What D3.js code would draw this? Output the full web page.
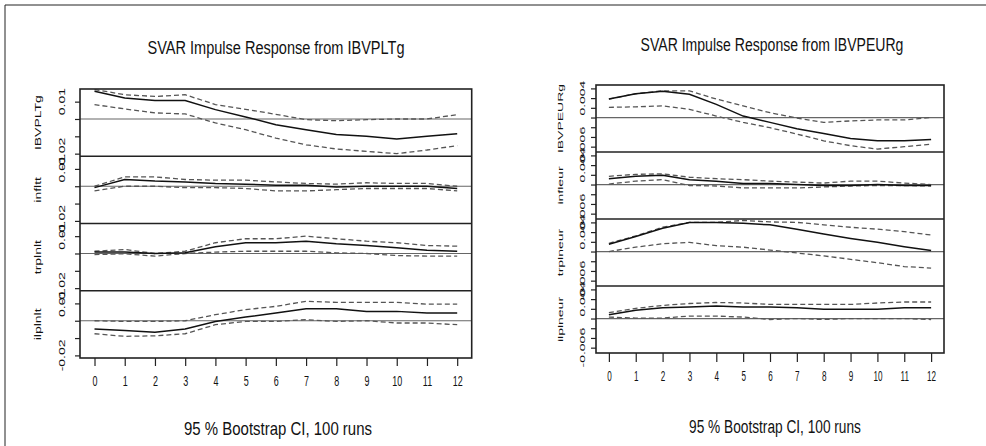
<!DOCTYPE html>
<html>
<head>
<meta charset="utf-8">
<script src="https://cdn.jsdelivr.net/npm/d3@7"></script>
<style>
  body { margin: 0; background: #fff; }
  svg text { font-family: "Liberation Sans", Arial, sans-serif; fill: #111; }
</style>
</head>
<body>
<div id="chart"></div>
<script>
const horizons = [0, 1, 2, 3, 4, 5, 6, 7, 8, 9, 10, 11, 12];

// shock from IBVPLTg
const pltVars = ['IBVPLTg', 'infltt', 'trplnlt', 'ilplnlt'];
const pltIrf = [
    [0.016, 0.0121, 0.0106, 0.0106, 0.0054, 0.0012, -0.0033, -0.0062, -0.009, -0.010, -0.0116, -0.010, -0.0085],
    [-0.0008, 0.0039, 0.003, 0.0025, 0.0016, 0.0012, 0.0006, 0.0006, -0.0004, 0, 0, 0, -0.0013],
    [0.0008, 0.0008, 0, 0.0004, 0.0039, 0.0062, 0.0062, 0.0071, 0.0056, 0.0046, 0.0033, 0.0019, 0.0013],
    [-0.0048, -0.0056, -0.0067, -0.0048, -0.0004, 0.0021, 0.0044, 0.0069, 0.0069, 0.0054, 0.0054, 0.0044, 0.0044]
];
const pltLower = [
    [0.0083, 0.0058, 0.0035, 0.0029, -0.0023, -0.0062, -0.011, -0.0149, -0.0173, -0.0187, -0.020, -0.0179, -0.0154],
    [-0.0027, 0, 0, -0.0008, -0.0008, -0.0013, -0.0027, -0.0027, -0.002, -0.0013, -0.0013, -0.0013, -0.0027],
    [-0.0006, -0.0002, -0.0015, 0, 0.0008, 0.0013, 0.0013, 0.0013, 0.0004, 0, -0.0012, -0.0015, -0.0015],
    [-0.0075, -0.009, -0.0087, -0.0075, -0.0023, -0.0004, -0.0004, 0.0006, -0.0004, 0, -0.0013, -0.0013, -0.0023]
];
const pltUpper = [
    [0.017, 0.014, 0.013, 0.014, 0.0083, 0.0056, 0.0027, -0.0004, -0.001, -0.0004, 0, 0, 0.0025],
    [0, 0.0054, 0.0054, 0.0039, 0.0035, 0.0035, 0.0025, 0.0016, 0.0012, 0.002, 0.0016, 0.0016, 0],
    [0.0013, 0.0023, 0, 0.0013, 0.0062, 0.0085, 0.0085, 0.010, 0.0085, 0.0071, 0.0062, 0.0046, 0.0042],
    [0, -0.0004, -0.0004, 0, 0.0035, 0.0064, 0.0083, 0.0112, 0.0106, 0.0106, 0.0106, 0.0096, 0.0096]
];
const pltTicks = [-0.02, -0.01, 0, 0.01];
const pltTickLabels = [-0.02, 0.01];

// shock from IBVPEURg
const eurVars = ['IBVPEURg', 'infleur', 'trplneur', 'ilplneur'];
const eurIrf = [
    [0.0038, 0.0049, 0.0054, 0.0048, 0.0027, 0.0003, -0.001, -0.0023, -0.0033, -0.0043, -0.0048, -0.0048, -0.0045],
    [0.0012, 0.0017, 0.0019, 0.001, 0.0007, 0.0002, 0.0002, 0, -0.0002, -0.0002, 0, -0.0002, -0.0002],
    [0.0015, 0.0031, 0.0048, 0.006, 0.006, 0.0058, 0.0055, 0.0046, 0.0036, 0.0027, 0.0019, 0.001, 0.0002],
    [0.0008, 0.0017, 0.0022, 0.0024, 0.0026, 0.0024, 0.0024, 0.0022, 0.0019, 0.0019, 0.0019, 0.0022, 0.0022]
];
const eurLower = [
    [0.0021, 0.0022, 0.0024, 0.0017, 0.0003, -0.001, -0.0021, -0.0034, -0.0048, -0.0058, -0.0065, -0.006, -0.0055],
    [0.0001, 0.0007, 0.001, -0.0002, -0.0003, -0.0007, -0.0007, -0.0007, -0.0005, -0.0003, -0.0002, -0.0002, -0.0003],
    [0, 0.0009, 0.0016, 0.0019, 0.0012, 0.0009, 0.0003, -0.0003, -0.0009, -0.0016, -0.0023, -0.0031, -0.0034],
    [0.0003, 0.0001, 0.0001, 0.0005, 0.0005, 0.0003, -0.0002, 0, -0.0002, 0, 0, 0, -0.0002]
];
const eurUpper = [
    [0.0038, 0.0049, 0.0055, 0.0055, 0.0038, 0.0024, 0.001, -0.0001, -0.001, -0.0007, -0.0005, -0.0005, 0],
    [0.0017, 0.0021, 0.0022, 0.0015, 0.0012, 0.001, 0.0007, 0.0005, 0.0003, 0.0007, 0.0007, 0.0003, 0],
    [0.0017, 0.0032, 0.005, 0.006, 0.006, 0.0064, 0.0061, 0.006, 0.0055, 0.005, 0.0046, 0.0041, 0.0034],
    [0.0012, 0.0021, 0.0027, 0.0031, 0.0033, 0.0032, 0.0029, 0.0029, 0.0029, 0.0029, 0.0032, 0.0034, 0.0034]
];
const eurTicks = [-0.006, -0.004, -0.002, 0, 0.002, 0.004, 0.006];
const eurTickLabels = [-0.006, 0.004];

const titles = ['SVAR Impulse Response from IBVPLTg', 'SVAR Impulse Response from IBVPEURg'];
const footer = '95 % Bootstrap CI,  100 runs';

const width = 986;
const height = 446;

const svg = d3.select('#chart')
    .append('svg')
        .attr('width', width)
        .attr('height', height);

// outer frame of the exported picture
svg.append('path')
    .attr('d', `M5,${height} V5 H${width}`)
    .attr('fill', 'none')
    .attr('stroke', '#222')
    .attr('stroke-width', 1);

// horizontal text squeezed to a target width (the source image was squashed sideways)
function squeezedText(g, label, cx, cy, targetW, fontSize) {
    const t = g.append('text')
        .attr('text-anchor', 'middle')
        .attr('font-size', fontSize)
        .text(label);
    const natural = t.node().getComputedTextLength();
    t.attr('transform', `translate(${cx},${cy}) scale(${targetW / natural},1)`);
    return t;
}

function drawIrf(opt) {
    const g = svg.append('g');
    const x = d3.scaleLinear().domain([-0.48, 12.48]).range([opt.left, opt.right]);
    const panelH = (opt.bottom - opt.top) / opt.vars.length;

    opt.vars.forEach((name, i) => {
        const y = d3.scaleLinear()
            .domain(opt.yDomain)
            .range([opt.top + (i + 1) * panelH, opt.top + i * panelH]);
        const line = d3.line().x((d, j) => x(horizons[j])).y(d => y(d));

        g.append('line')
            .attr('x1', opt.left)
            .attr('x2', opt.right)
            .attr('y1', y(0))
            .attr('y2', y(0))
            .attr('stroke', '#666')
            .attr('stroke-width', 1.2);

        [opt.lower[i], opt.upper[i]].forEach(band => {
            g.append('path')
                .datum(band)
                .attr('d', line)
                .attr('fill', 'none')
                .attr('stroke', '#555')
                .attr('stroke-width', 1.3)
                .attr('stroke-dasharray', '5,3');
        });

        g.append('path')
            .datum(opt.irf[i])
            .attr('d', line)
            .attr('fill', 'none')
            .attr('stroke', '#111')
            .attr('stroke-width', 1.5);

        const axis = g.append('g')
            .attr('transform', `translate(${opt.left},0)`)
            .call(d3.axisLeft(y).tickValues(opt.ticks).tickSize(5).tickFormat(''));
        axis.select('.domain').remove();
        axis.selectAll('line').attr('stroke', '#222').attr('stroke-width', 1.2);

        // R style vertical tick labels
        g.selectAll(null)
            .data(opt.tickLabels)
            .join('text')
                .attr('transform', d => `translate(${opt.labelX},${y(d)}) scale(${opt.sx},1) rotate(-90)`)
                .attr('text-anchor', 'middle')
                .attr('dy', '0.35em')
                .attr('font-size', opt.fs)
                .text(d => String(d));

        g.append('text')
            .attr('transform', `translate(${opt.nameX},${opt.top + (i + 0.5) * panelH}) scale(${opt.sx},1) rotate(-90)`)
            .attr('text-anchor', 'middle')
            .attr('dy', '0.35em')
            .attr('font-size', opt.fs)
            .text(name);

        if (i > 0) {
            g.append('line')
                .attr('x1', opt.left)
                .attr('x2', opt.right)
                .attr('y1', opt.top + i * panelH)
                .attr('y2', opt.top + i * panelH)
                .attr('stroke', '#222')
                .attr('stroke-width', 1.6);
        }
    });

    g.append('rect')
        .attr('x', opt.left)
        .attr('y', opt.top)
        .attr('width', opt.right - opt.left)
        .attr('height', opt.bottom - opt.top)
        .attr('fill', 'none')
        .attr('stroke', '#222')
        .attr('stroke-width', 1.6);

    const xAxis = g.append('g')
        .attr('transform', `translate(0,${opt.bottom})`)
        .call(d3.axisBottom(x).tickValues(horizons).tickSize(opt.xTick).tickPadding(opt.xPad));
    xAxis.select('.domain').remove();
    xAxis.selectAll('line').attr('stroke', '#222').attr('stroke-width', 1.2);
    xAxis.selectAll('text')
        .attr('font-size', opt.fs)
        .attr('font-family', '"Liberation Sans", Arial, sans-serif')
        .attr('fill', '#111')
        .attr('transform', `scale(${opt.sx},1)`);

    squeezedText(g, opt.title, opt.titleX, opt.titleY, opt.titleW, 19);
    squeezedText(g, footer, opt.footX, opt.footY, opt.footW, 19);
}

drawIrf({
    vars: pltVars, irf: pltIrf, lower: pltLower, upper: pltUpper,
    ticks: pltTicks, tickLabels: pltTickLabels, yDomain: [-0.0215, 0.0173],
    left: 80, right: 471.7, top: 89, bottom: 358,
    labelX: 62, nameX: 38, sx: 0.64, fs: 14, xTick: 8, xPad: 10,
    title: titles[0], titleX: 276, titleY: 54, titleW: 257,
    footX: 278, footY: 435, footW: 188
});

drawIrf({
    vars: eurVars, irf: eurIrf, lower: eurLower, upper: eurUpper,
    ticks: eurTicks, tickLabels: eurTickLabels, yDomain: [-0.0071, 0.0067],
    left: 596, right: 944, top: 85, bottom: 353,
    labelX: 582, nameX: 560, sx: 0.58, fs: 14, xTick: 9, xPad: 9,
    title: titles[1], titleX: 772, titleY: 51, titleW: 263,
    footX: 775, footY: 433, footW: 172
});
</script>
</body>
</html>
